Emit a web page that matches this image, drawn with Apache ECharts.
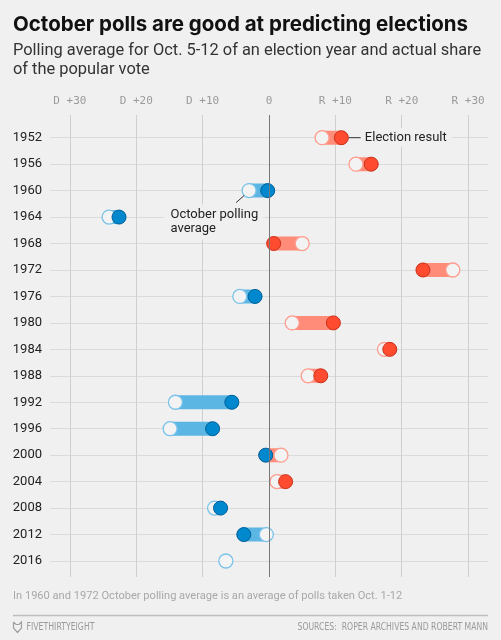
<!DOCTYPE html>
<html>
<head>
<meta charset="utf-8">
<script src="https://cdn.jsdelivr.net/npm/echarts@6/dist/echarts.min.js"></script>
<style>
html,body{margin:0;padding:0;background:#f0f0f0;}
#chart{width:501px;height:640px;}
</style>
</head>
<body>
<div id="chart"></div>
<script>
const years = ['1952','1956','1960','1964','1968','1972','1976','1980','1984','1988','1992','1996','2000','2004','2008','2012','2016'];
// margin in points: negative = Democratic lead, positive = Republican lead
const pollAvg = [8.0, 13.1, -3.0, -24.1, 5.0, 27.7, -4.4, 3.5, 17.4, 5.9, -14.1, -14.9, 1.8, 1.2, -8.2, -0.4, -6.5];
const electionResult = [10.9, 15.4, -0.2, -22.6, 0.7, 23.2, -2.1, 9.7, 18.2, 7.8, -5.6, -8.5, -0.5, 2.5, -7.3, -3.8, null];
const xTickValues = [-30, -20, -10, 0, 10, 20, 30];

const titleText = 'October polls are good at predicting elections';
const subtitleText = 'Polling average for Oct. 5-12 of an election year and actual share\nof the popular vote';
const noteText = 'In 1960 and 1972 October polling average is an average of polls taken Oct. 1-12';
const brandText = 'FIVETHIRTYEIGHT';
const sourceText = 'SOURCES:  ROPER ARCHIVES AND ROBERT MANN';

const RED = '#ff4b2f', RED_DARK = '#c8321c', RED_BAR = '#ff8b79', RED_LIGHT = '#ff9d8e';
const BLUE = '#0088cf', BLUE_DARK = '#005f98', BLUE_BAR = '#5cb6e4', BLUE_LIGHT = '#7ac3ea';
const BG = '#f0f0f0';
const FOOT_FONT = 'DejaVu Sans Condensed, Liberation Sans Narrow, DejaVu Sans, sans-serif';

function tickLabel(v) {
  if (xTickValues.indexOf(v) < 0) return '';
  if (v < 0) return 'D +' + (-v);
  if (v > 0) return 'R +' + v;
  return '0';
}

// horizontal squeeze so the footer text mimics a condensed face
function squeeze(text, size, target) {
  const ctx = document.createElement('canvas').getContext('2d');
  ctx.font = size + 'px ' + FOOT_FONT;
  const w = ctx.measureText(text).width;
  return Math.min(1, target / w);
}
const brandScale = squeeze(brandText, 11, 68);
const srcScale = squeeze(sourceText, 11, 190.5);

const chart = echarts.init(document.getElementById('chart'), null, {renderer: 'canvas'});

const pollData = years.map((y, i) => ({
  value: [pollAvg[i], y],
  itemStyle: {borderColor: pollAvg[i] < 0 ? BLUE_LIGHT : RED_LIGHT},
  label: i === 2 ? {
    show: true,
    position: [-78, 21.5],
    align: 'left',
    verticalAlign: 'top',
    formatter: 'October polling\naverage',
    fontFamily: 'Roboto, sans-serif',
    fontSize: 13,
    lineHeight: 14.5,
    color: '#222',
    backgroundColor: BG,
    padding: [3, 5, 3, 7]
  } : {show: false}
}));

const resultData = [];
years.forEach((y, i) => {
  if (electionResult[i] === null) return;
  const d = electionResult[i] < 0;
  resultData.push({
    value: [electionResult[i], y],
    itemStyle: {color: d ? BLUE : RED, borderColor: d ? BLUE_DARK : RED_DARK},
    label: i === 0 ? {
      show: true,
      position: 'right',
      distance: 0,
      formatter: '{l|}{t|Election result}',
      rich: {
        l: {width: 12, height: 1, backgroundColor: '#333'},
        t: {fontFamily: 'Roboto, sans-serif', fontSize: 13, color: '#222', backgroundColor: BG, padding: [3, 5, 3, 4]}
      }
    } : {show: false}
  });
});

const barData = years.map((y, i) => [pollAvg[i], electionResult[i], y]);

const option = {
  backgroundColor: BG,
  animation: false,
  title: [
    {text: titleText, left: 13, top: 14, padding: 0,
     textStyle: {fontFamily: 'Inter, Roboto, sans-serif', fontWeight: 'bold', fontSize: 20.5, color: '#111'}},
    {text: subtitleText, left: 13, top: 41, padding: 0,
     textStyle: {fontFamily: 'Roboto, sans-serif', fontWeight: 'normal', fontSize: 16.4, lineHeight: 19, color: '#333'}}
  ],
  grid: [
    {left: 50, right: 13, top: 115, bottom: 63},
    {left: 50, right: 13, top: 137.7, bottom: 79}
  ],
  xAxis: [
    {
      gridIndex: 0, type: 'value', position: 'top', min: -33, max: 33,
      axisLine: {show: false}, axisTick: {show: false},
      axisLabel: {formatter: tickLabel, showMinLabel: false, showMaxLabel: false, margin: 8,
                  fontFamily: 'DejaVu Sans Mono, monospace', fontSize: 11, color: '#9a9a9a'},
      splitLine: {show: true, showMinLine: false, showMaxLine: false, lineStyle: {color: '#cfcfcf', width: 1}}
    },
    {
      gridIndex: 1, type: 'value', min: -33, max: 33, show: false,
      splitLine: {show: false}
    }
  ],
  yAxis: [
    {gridIndex: 0, type: 'value', min: 0, max: 1, show: false, splitLine: {show: false}},
    {
      gridIndex: 1, type: 'category', data: years, inverse: true, boundaryGap: false,
      axisLine: {show: false}, axisTick: {show: false},
      axisLabel: {margin: 8, fontFamily: 'Roboto, sans-serif', fontSize: 13, color: '#222'},
      splitLine: {show: true, lineStyle: {color: '#dadada', width: 1}}
    }
  ],
  series: [
    {
      type: 'line', xAxisIndex: 0, yAxisIndex: 0, data: [], silent: true, z: 1,
      markLine: {
        silent: true, symbol: 'none', label: {show: false},
        lineStyle: {color: '#777', width: 1, type: 'solid'},
        data: [{xAxis: 0}]
      }
    },
    {
      type: 'custom', xAxisIndex: 1, yAxisIndex: 1, z: 2, silent: true,
      encode: {x: [0, 1], y: 2},
      data: barData,
      renderItem: function (params, api) {
        const p = api.value(0), r = api.value(1), idx = api.value(2);
        if (r === null || isNaN(r)) return null;
        const a = api.coord([p, idx]), b = api.coord([r, idx]);
        const rad = 7;
        const x0 = Math.min(a[0], b[0]) - rad, x1 = Math.max(a[0], b[0]) + rad;
        return {
          type: 'rect',
          shape: {x: x0, y: a[1] - rad, width: x1 - x0, height: rad * 2, r: rad},
          style: {fill: p < 0 ? BLUE_BAR : RED_BAR}
        };
      }
    },
    {
      type: 'scatter', xAxisIndex: 1, yAxisIndex: 1, z: 3, silent: true,
      symbol: 'circle', symbolSize: 14,
      itemStyle: {color: '#f3f3f3', borderWidth: 1.3, opacity: 1},
      data: pollData
    },
    {
      type: 'scatter', xAxisIndex: 1, yAxisIndex: 1, z: 4, silent: true,
      symbol: 'circle', symbolSize: 14,
      itemStyle: {borderWidth: 1, opacity: 1},
      data: resultData
    }
  ],
  graphic: [
    {type: 'text', id: 'note', left: 13, top: 591,
     style: {text: noteText, fontFamily: 'Roboto, sans-serif', fontSize: 11.1, fill: '#a8a8a8'}},
    {type: 'line', id: 'sep', shape: {x1: 13, y1: 615.5, x2: 488, y2: 615.5},
     style: {stroke: '#bdbdbd', lineWidth: 1.5}},
    {type: 'polyline', id: 'fox',
     shape: {points: [[13.5, 622], [16, 624.5], [19, 624.5], [21.5, 622], [21.5, 628], [17.5, 632.5], [13.5, 628], [13.5, 622]]},
     style: {stroke: '#a0a0a0', lineWidth: 1.2, fill: 'none'}},
    {type: 'text', id: 'brand', x: 26.5, y: 627.5, scaleX: brandScale,
     style: {text: brandText, font: '11px ' + FOOT_FONT, fill: '#9a9a9a', textAlign: 'left', textVerticalAlign: 'middle'}},
    {type: 'text', id: 'src', x: 488, y: 627.5, scaleX: srcScale,
     style: {text: sourceText, font: '11px ' + FOOT_FONT, fill: '#9a9a9a', textAlign: 'right', textVerticalAlign: 'middle'}}
  ]
};

chart.setOption(option);

// leader line for the "October polling average" note, anchored to the 1960 poll marker
const c = chart.convertToPixel({seriesIndex: 2}, [pollAvg[2], years[2]]);
chart.setOption({
  graphic: [
    {type: 'line', id: 'leader', z: 10,
     shape: {x1: c[0] - 5, y1: c[1] + 5, x2: c[0] - 13, y2: c[1] + 12},
     style: {stroke: '#333', lineWidth: 1}}
  ]
});
</script>
</body>
</html>
